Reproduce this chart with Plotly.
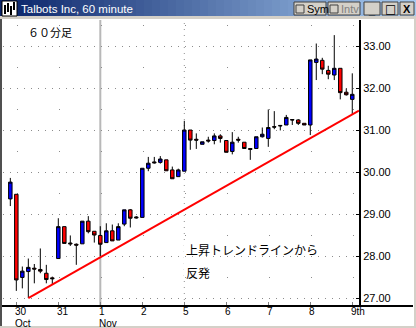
import plotly.graph_objects as go

# ---------------- data ----------------
bar_index = list(range(58))
opens = [29.36, 29.47, 27.49, 27.63, 27.71, 27.68, 27.59, 27.48, 27.94, 28.70,
         28.31, 28.28, 28.29, 28.83, 28.59, 28.49, 28.32, 28.60, 28.38, 28.76,
         29.10, 28.93, 28.92, 30.09, 30.24, 30.23, 30.29, 30.05, 29.89, 30.02,
         31.00, 30.78, 30.66, 30.76, 30.75, 30.86, 30.75, 30.49, 30.78, 30.71,
         30.56, 30.56, 30.84, 30.80, 31.08, 31.11, 31.12, 31.25, 31.24, 31.16,
         31.12, 32.61, 32.66, 32.42, 32.31, 32.47, 31.90, 31.73]
highs = [29.86, 29.47, 27.75, 27.94, 27.81, 28.18, 27.79, 27.51, 28.90, 28.70,
         28.49, 28.30, 28.83, 28.95, 28.59, 28.71, 28.78, 28.75, 28.78, 29.10,
         29.12, 28.95, 30.09, 30.36, 30.36, 30.38, 30.29, 30.13, 30.08, 31.22,
         31.00, 30.92, 30.72, 30.84, 30.92, 30.90, 30.75, 30.95, 30.84, 30.71,
         30.56, 30.84, 31.06, 31.49, 31.45, 31.11, 31.36, 31.26, 31.26, 31.16,
         32.67, 33.06, 32.72, 32.53, 33.26, 32.47, 31.99, 32.35]
lows = [29.19, 27.17, 27.23, 27.00, 27.35, 27.59, 27.35, 27.33, 27.94, 28.30,
        28.24, 27.79, 28.29, 28.54, 28.32, 28.00, 28.32, 28.36, 28.38, 28.71,
        28.68, 28.89, 28.92, 30.02, 30.20, 30.20, 30.03, 29.84, 29.89, 30.02,
        30.53, 30.55, 30.66, 30.70, 30.66, 30.70, 30.47, 30.42, 30.70, 30.56,
        30.29, 30.55, 30.82, 30.60, 31.02, 30.99, 31.12, 31.12, 31.12, 31.12,
        30.88, 32.19, 32.33, 32.21, 32.19, 31.73, 31.82, 31.36]
closes = [29.76, 27.43, 27.64, 27.73, 27.69, 27.64, 27.44, 27.46, 28.70, 28.30,
          28.29, 28.26, 28.83, 28.58, 28.50, 28.28, 28.60, 28.36, 28.70, 29.10,
          28.90, 28.91, 30.09, 30.21, 30.22, 30.31, 30.03, 29.84, 30.05, 31.00,
          30.76, 30.76, 30.72, 30.74, 30.86, 30.80, 30.47, 30.71, 30.76, 30.56,
          30.54, 30.84, 30.90, 31.06, 31.07, 31.10, 31.30, 31.24, 31.16, 31.12,
          32.67, 32.69, 32.45, 32.33, 32.47, 31.89, 31.84, 31.85]

day_starts = [1, 8, 15, 22, 29, 36, 43, 50, 57]
day_labels = ["30", "31", "1", "2", "5", "6", "7", "8", "9th"]
month_labels = ["Oct", "", "Nov", "", "", "", "", "", ""]
month_start = 15
week_start = 29

price_ticks = [27, 28, 29, 30, 31, 32, 33]
price_tick_text = ["27.00", "28.00", "29.00", "30.00", "31.00", "32.00", "33.00"]
half_ticks = [27.5, 28.5, 29.5, 30.5, 31.5, 32.5, 33.5]

trend_x = [3, 58.12]
trend_y = [27.00, 31.46]

title_text = "Talbots Inc, 60 minute"
chart_note = "６０分足"
comment_line1 = "上昇トレンドラインから"
comment_line2 = "反発"

# ---------------- layout geometry ----------------
W, H = 416, 328
L, R, T, B = 3, 57, 20, 22
PW = W - L - R
PH = H - T - B
X_RANGE = [-1.22, 58.12]
Y_RANGE = [26.81, 33.62]


def fx(px):
    return (px - L) / PW


def fy(py):
    return (T + PH - py) / PH


fig = go.Figure()

fig.add_trace(go.Candlestick(
    x=bar_index, open=opens, high=highs, low=lows, close=closes,
    increasing=dict(fillcolor="#0000FF", line=dict(color="black", width=1)),
    decreasing=dict(fillcolor="#FF0000", line=dict(color="black", width=1)),
    whiskerwidth=0, hoverinfo="skip", showlegend=False,
))

fig.add_trace(go.Scatter(
    x=trend_x, y=trend_y, mode="lines",
    line=dict(color="#FF0000", width=2), hoverinfo="skip", showlegend=False,
))

shapes = []
# month boundary (solid) and week boundary (dotted)
shapes.append(dict(type="line", xref="x", yref="paper", x0=month_start, x1=month_start,
                   y0=0, y1=1, line=dict(color="#B8B8B8", width=2), layer="below"))
shapes.append(dict(type="line", xref="x", yref="paper", x0=week_start, x1=week_start,
                   y0=0, y1=1, line=dict(color="#909090", width=1, dash="1px,5px"), layer="below"))
# white box behind the comment text
shapes.append(dict(type="rect", xref="paper", yref="paper", x0=fx(184), x1=fx(322),
                   y0=fy(279), y1=fy(240), fillcolor="white", line=dict(width=0), layer="between"))
# bottom axis line across the full width
shapes.append(dict(type="line", xref="paper", yref="paper", x0=fx(0), x1=fx(413),
                   y0=fy(306), y1=fy(306), line=dict(color="black", width=2)))
# window frame
shapes.append(dict(type="rect", xref="paper", yref="paper", x0=fx(0), x1=fx(2),
                   y0=fy(H), y1=fy(16), fillcolor="#505050", line=dict(width=0)))
shapes.append(dict(type="rect", xref="paper", yref="paper", x0=fx(0), x1=fx(W),
                   y0=fy(H), y1=fy(H - 2), fillcolor="#D4D0C8", line=dict(width=0)))
shapes.append(dict(type="rect", xref="paper", yref="paper", x0=fx(W - 2), x1=fx(W),
                   y0=fy(H), y1=fy(16), fillcolor="#D4D0C8", line=dict(width=0)))
shapes.append(dict(type="rect", xref="paper", yref="paper", x0=fx(0), x1=fx(W),
                   y0=fy(19), y1=fy(16), fillcolor="#D4D0C8", line=dict(width=0)))
# title bar gradient
c0 = (10, 36, 106)
c1 = (166, 202, 240)
n = 52
for i in range(n):
    t = i / (n - 1)
    col = "rgb(%d,%d,%d)" % tuple(round(a + (b - a) * t) for a, b in zip(c0, c1))
    shapes.append(dict(type="rect", xref="paper", yref="paper",
                       x0=fx(i * W / n), x1=fx((i + 1) * W / n + 0.5),
                       y0=fy(16), y1=fy(0), fillcolor=col, line=dict(width=0)))
# icon
shapes.append(dict(type="rect", xref="paper", yref="paper", x0=fx(2), x1=fx(17),
                   y0=fy(16), y1=fy(1), fillcolor="white", line=dict(color="black", width=1)))
for xx, ya, yb in [(5, 5, 14), (8, 3, 12), (11, 6, 15), (14, 2, 10)]:
    shapes.append(dict(type="line", xref="paper", yref="paper", x0=fx(xx), x1=fx(xx),
                       y0=fy(yb), y1=fy(ya), line=dict(color="black", width=2)))
# buttons
buttons = [(294, 326), (328, 360), (364, 380), (382, 398), (400, 414)]
for x0b, x1b in buttons:
    shapes.append(dict(type="rect", xref="paper", yref="paper", x0=fx(x0b), x1=fx(x1b),
                       y0=fy(15), y1=fy(2), fillcolor="#D4D0C8",
                       line=dict(color="#404040", width=1)))
for x0b in (296, 330):
    shapes.append(dict(type="rect", xref="paper", yref="paper", x0=fx(x0b), x1=fx(x0b + 8),
                       y0=fy(13), y1=fy(5), fillcolor="#D4D0C8",
                       line=dict(color="#404040", width=1)))

annotations = []
lab_font = dict(family="Liberation Sans, Arial", size=10, color="black")
for d, lab, mon in zip(day_starts, day_labels, month_labels):
    annotations.append(dict(x=d, xref="x", y=fy(311), yref="paper", text=lab,
                            xanchor="left", yanchor="middle", xshift=-3,
                            showarrow=False, font=lab_font))
    if mon:
        annotations.append(dict(x=d, xref="x", y=fy(323), yref="paper", text=mon,
                                xanchor="left", yanchor="middle", xshift=-3,
                                showarrow=False, font=lab_font))
cjk = "Noto Sans CJK JP"
annotations.append(dict(x=fx(50), y=fy(32), xref="paper", yref="paper", text=chart_note,
                        xanchor="center", yanchor="middle", showarrow=False,
                        font=dict(family=cjk, size=11, color="black")))
annotations.append(dict(x=fx(184), y=fy(249), xref="paper", yref="paper", text=comment_line1,
                        xanchor="left", yanchor="middle", showarrow=False,
                        font=dict(family=cjk, size=12, color="black")))
annotations.append(dict(x=fx(184), y=fy(272), xref="paper", yref="paper", text=comment_line2,
                        xanchor="left", yanchor="middle", showarrow=False,
                        font=dict(family=cjk, size=12, color="black")))
annotations.append(dict(x=fx(19), y=fy(9), xref="paper", yref="paper", text=title_text,
                        xanchor="left", yanchor="middle", showarrow=False,
                        font=dict(family="Liberation Sans, Arial", size=11.5, color="white")))
btn_font = dict(family="Liberation Sans, Arial", size=11, color="black")
annotations.append(dict(x=fx(305), y=fy(9), xref="paper", yref="paper", text="Sym",
                        xanchor="left", yanchor="middle", showarrow=False, font=btn_font))
annotations.append(dict(x=fx(339), y=fy(9), xref="paper", yref="paper", text="Intv",
                        xanchor="left", yanchor="middle", showarrow=False,
                        font=dict(family="Liberation Sans, Arial", size=11, color="#808080")))
annotations.append(dict(x=fx(372), y=fy(10), xref="paper", yref="paper", text="<b>_</b>",
                        xanchor="center", yanchor="middle", showarrow=False, font=btn_font))
annotations.append(dict(x=fx(390), y=fy(9), xref="paper", yref="paper", text="<b>□</b>",
                        xanchor="center", yanchor="middle", showarrow=False,
                        font=dict(family="DejaVu Sans", size=12, color="black")))
annotations.append(dict(x=fx(407), y=fy(9), xref="paper", yref="paper", text="<b>X</b>",
                        xanchor="center", yanchor="middle", showarrow=False,
                        font=dict(family="Liberation Sans, Arial", size=11, color="black")))

fig.update_layout(
    width=W, height=H,
    margin=dict(l=L, r=R, t=T, b=B, pad=0),
    paper_bgcolor="white", plot_bgcolor="white",
    showlegend=False, boxgap=0.17,
    shapes=shapes, annotations=annotations,
    xaxis=dict(range=X_RANGE, showgrid=False, zeroline=False, showline=False,
               tickvals=day_starts, ticks="inside", ticklen=4, tickcolor="#808080",
               showticklabels=False, rangeslider=dict(visible=False), fixedrange=True),
    yaxis=dict(range=Y_RANGE, side="right", tickvals=price_ticks, ticktext=price_tick_text,
               ticks="inside", ticklen=3, tickcolor="black", tickwidth=1,
               showline=True, linecolor="black", linewidth=2, zeroline=False,
               showgrid=True, gridcolor="#8C8C8C", gridwidth=1, griddash="1px,6px",
               minor=dict(tickvals=half_ticks, showgrid=True, gridcolor="#8C8C8C",
                          gridwidth=1, griddash="0px,14px,1px,27px", ticks=""),
               tickfont=dict(family="Liberation Sans, Arial", size=11, color="black"),
               fixedrange=True),
)

fig.write_html("out.html")
